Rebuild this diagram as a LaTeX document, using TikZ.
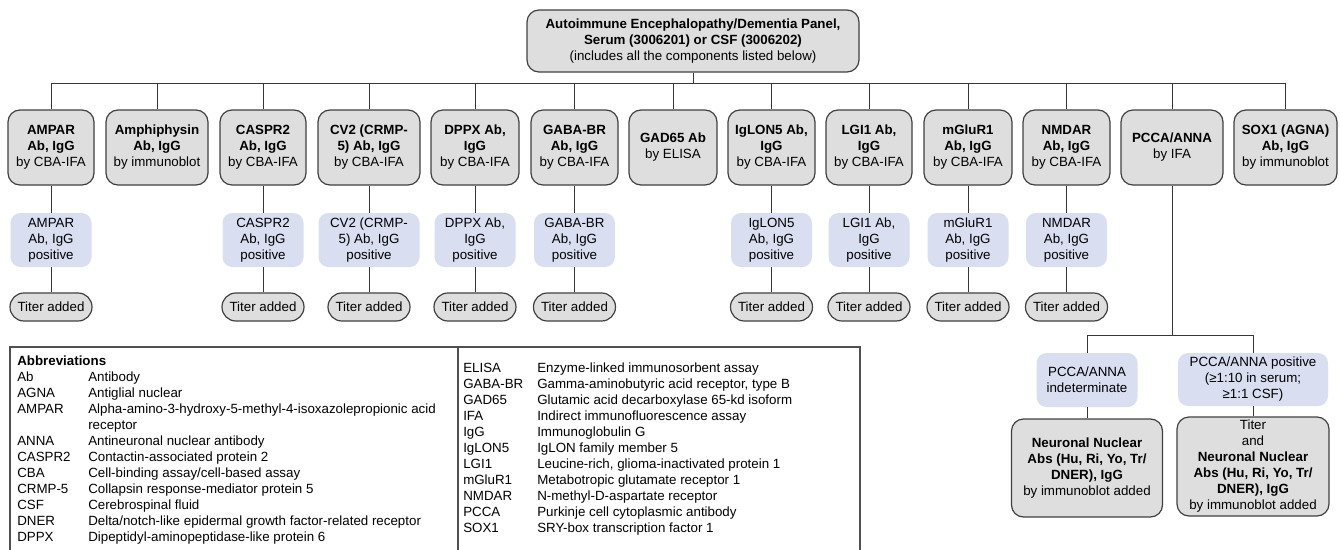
\documentclass[tikz,border=0pt]{standalone}
\usepackage{fontspec}
\setmainfont{Liberation Sans}
\usepackage{array}
\definecolor{boxfill}{RGB}{222,222,222}
\definecolor{boxline}{RGB}{64,64,64}
\definecolor{posfill}{RGB}{217,222,241}
\definecolor{connline}{RGB}{55,55,55}
\definecolor{tabline}{RGB}{80,80,80}
\begin{document}
\begin{tikzpicture}[x=0.75pt,y=-0.75pt,
  every node/.style={font=\fontsize{10}{12}\selectfont, text=black},
  testbox/.style={draw=boxline, fill=boxfill, line width=0.9pt, rounded corners=9pt,
    align=center, inner sep=0pt, minimum height=75*0.75pt, minimum width=#1*0.75pt},
  posbox/.style={fill=posfill, rounded corners=7.5pt, align=center, inner sep=0pt,
    minimum height=54*0.75pt, minimum width=#1*0.75pt},
  titerbox/.style={draw=boxline, fill=boxfill, line width=0.9pt, rounded corners=10.4pt,
    align=center, inner sep=0pt, minimum height=28*0.75pt, minimum width=82*0.75pt},
  bigbox/.style={draw=boxline, fill=boxfill, line width=0.9pt, rounded corners=9pt,
    align=center, inner sep=0pt, minimum height=98*0.75pt, minimum width=#1*0.75pt},
  conn/.style={draw=connline, line width=0.75pt},
  abbr/.style={anchor=base west, inner sep=0pt, align=left}
]
\useasboundingbox (0,0) rectangle (1340,550);

% top node
\node[testbox=332, minimum height=62*0.75pt] (top) at (693,41)
  {\textbf{Autoimmune Encephalopathy/Dementia Panel,}\\\textbf{Serum (3006201) or CSF (3006202)}\\(includes all the components listed below)};
\coordinate (bus) at (693,83);
\draw[conn] (top.south) -- (bus);

% test boxes
\node[testbox=86]  (b1)  at (51,147.5)   {\textbf{AMPAR}\\\textbf{Ab, IgG}\\by CBA-IFA};
\node[testbox=102] (b2)  at (157,147.5)  {\textbf{Amphiphysin}\\\textbf{Ab, IgG}\\by immunoblot};
\node[testbox=86]  (b3)  at (263,147.5)  {\textbf{CASPR2}\\\textbf{Ab, IgG}\\by CBA-IFA};
\node[testbox=102] (b4)  at (369,147.5)  {\textbf{CV2 (CRMP-}\\\textbf{5) Ab, IgG}\\by CBA-IFA};
\node[testbox=88]  (b5)  at (475,147.5)  {\textbf{DPPX Ab,}\\\textbf{IgG}\\by CBA-IFA};
\node[testbox=87]  (b6)  at (574.5,147.5){\textbf{GABA-BR}\\\textbf{Ab, IgG}\\by CBA-IFA};
\node[testbox=88]  (b7)  at (673,147.5)  {\textbf{GAD65 Ab}\\by ELISA};
\node[testbox=87]  (b8)  at (771.5,147.5){\textbf{IgLON5 Ab,}\\\textbf{IgG}\\by CBA-IFA};
\node[testbox=86]  (b9)  at (869,147.5)  {\textbf{LGI1 Ab,}\\\textbf{IgG}\\by CBA-IFA};
\node[testbox=88]  (b10) at (968,147.5)  {\textbf{mGluR1}\\\textbf{Ab, IgG}\\by CBA-IFA};
\node[testbox=87]  (b11) at (1066.5,147.5){\textbf{NMDAR}\\\textbf{Ab, IgG}\\by CBA-IFA};
\node[testbox=102] (b12) at (1172,147.5) {\textbf{PCCA/ANNA}\\by IFA};
\node[testbox=103] (b13) at (1285.5,147.5){\textbf{SOX1 (AGNA)}\\\textbf{Ab, IgG}\\by immunoblot};

\foreach \b in {b1,b2,b3,b4,b5,b6,b7,b8,b9,b10,b11,b12,b13}
  \draw[conn] (\b.north) |- (bus);

% positive boxes
\node[posbox=81]  (p1)  at (51,240)     {AMPAR\\Ab, IgG\\positive};
\node[posbox=81]  (p3)  at (263,240)    {CASPR2\\Ab, IgG\\positive};
\node[posbox=101] (p4)  at (369,240)    {CV2 (CRMP-\\5) Ab, IgG\\positive};
\node[posbox=81]  (p5)  at (475,240)    {DPPX Ab,\\IgG\\positive};
\node[posbox=81]  (p6)  at (574.5,240)  {GABA-BR\\Ab, IgG\\positive};
\node[posbox=81]  (p8)  at (771.5,240)  {IgLON5\\Ab, IgG\\positive};
\node[posbox=81]  (p9)  at (869,240)    {LGI1 Ab,\\IgG\\positive};
\node[posbox=81]  (p10) at (968,240)    {mGluR1\\Ab, IgG\\positive};
\node[posbox=81]  (p11) at (1066.5,240) {NMDAR\\Ab, IgG\\positive};

% titer boxes
\node[titerbox] (t1)  at (51,307)     {Titer added};
\node[titerbox] (t3)  at (263,307)    {Titer added};
\node[titerbox] (t4)  at (369,307)    {Titer added};
\node[titerbox] (t5)  at (475,307)    {Titer added};
\node[titerbox] (t6)  at (574.5,307)  {Titer added};
\node[titerbox] (t8)  at (771.5,307)  {Titer added};
\node[titerbox] (t9)  at (869,307)    {Titer added};
\node[titerbox] (t10) at (968,307)    {Titer added};
\node[titerbox] (t11) at (1066.5,307) {Titer added};

\foreach \i in {1,3,4,5,6,8,9,10,11}{
  \draw[conn] (b\i.south) -- (p\i.north);
  \draw[conn] (p\i.south) -- (t\i.north);
}

% PCCA branch
\coordinate (split) at (1172,335);
\draw[conn] (b12.south) -- (split);
\node[posbox=101] (ind) at (1087,380) {PCCA/ANNA\\indeterminate};
\node[posbox=150, minimum height=53*0.75pt] (pos) at (1253,379.5) {PCCA/ANNA positive\\(≥1:10 in serum;\\≥1:1 CSF)};
\draw[conn] (ind.north) |- (split);
\draw[conn] (pos.north) |- (split);
\node[bigbox=151] (nn1) at (1087,468) {\textbf{Neuronal Nuclear}\\\textbf{Abs (Hu, Ri, Yo, Tr/}\\\textbf{DNER), IgG}\\by immunoblot added};
\node[bigbox=152, minimum height=99*0.75pt] (nn2) at (1253,466.5) {Titer\\and\\\textbf{Neuronal Nuclear}\\\textbf{Abs (Hu, Ri, Yo, Tr/}\\\textbf{DNER), IgG}\\by immunoblot added};
\draw[conn] (ind.south) -- (nn1.north);
\draw[conn] (pos.south) -- (nn2.north);

% abbreviations
\draw[draw=tabline, line width=0.9pt] (10,556) -- (10,347) -- (860,347) -- (860,556);
\draw[draw=tabline, line width=0.9pt] (458,347) -- (458,556);

\node[abbr] (abl) at (17,365) {\begin{tabular}[t]{@{}p{53.25pt}@{}l@{}}
\multicolumn{2}{@{}l@{}}{\textbf{Abbreviations}}\\
Ab & Antibody\\
AGNA & Antiglial nuclear\\
AMPAR & Alpha-amino-3-hydroxy-5-methyl-4-isoxazolepropionic acid\\
 & receptor\\
ANNA & Antineuronal nuclear antibody\\
CASPR2 & Contactin-associated protein 2\\
CBA & Cell-binding assay/cell-based assay\\
CRMP-5 & Collapsin response-mediator protein 5\\
CSF & Cerebrospinal fluid\\
DNER & Delta/notch-like epidermal growth factor-related receptor\\
DPPX & Dipeptidyl-aminopeptidase-like protein 6
\end{tabular}};

\node[abbr] (abr) at (463,372) {\begin{tabular}[t]{@{}p{55.5pt}@{}l@{}}
ELISA & Enzyme-linked immunosorbent assay\\
GABA-BR & Gamma-aminobutyric acid receptor, type B\\
GAD65 & Glutamic acid decarboxylase 65-kd isoform\\
IFA & Indirect immunofluorescence assay\\
IgG & Immunoglobulin G\\
IgLON5 & IgLON family member 5\\
LGI1 & Leucine-rich, glioma-inactivated protein 1\\
mGluR1 & Metabotropic glutamate receptor 1\\
NMDAR & N-methyl-D-aspartate receptor\\
PCCA & Purkinje cell cytoplasmic antibody\\
SOX1 & SRY-box transcription factor 1
\end{tabular}};
\end{tikzpicture}
\end{document}
